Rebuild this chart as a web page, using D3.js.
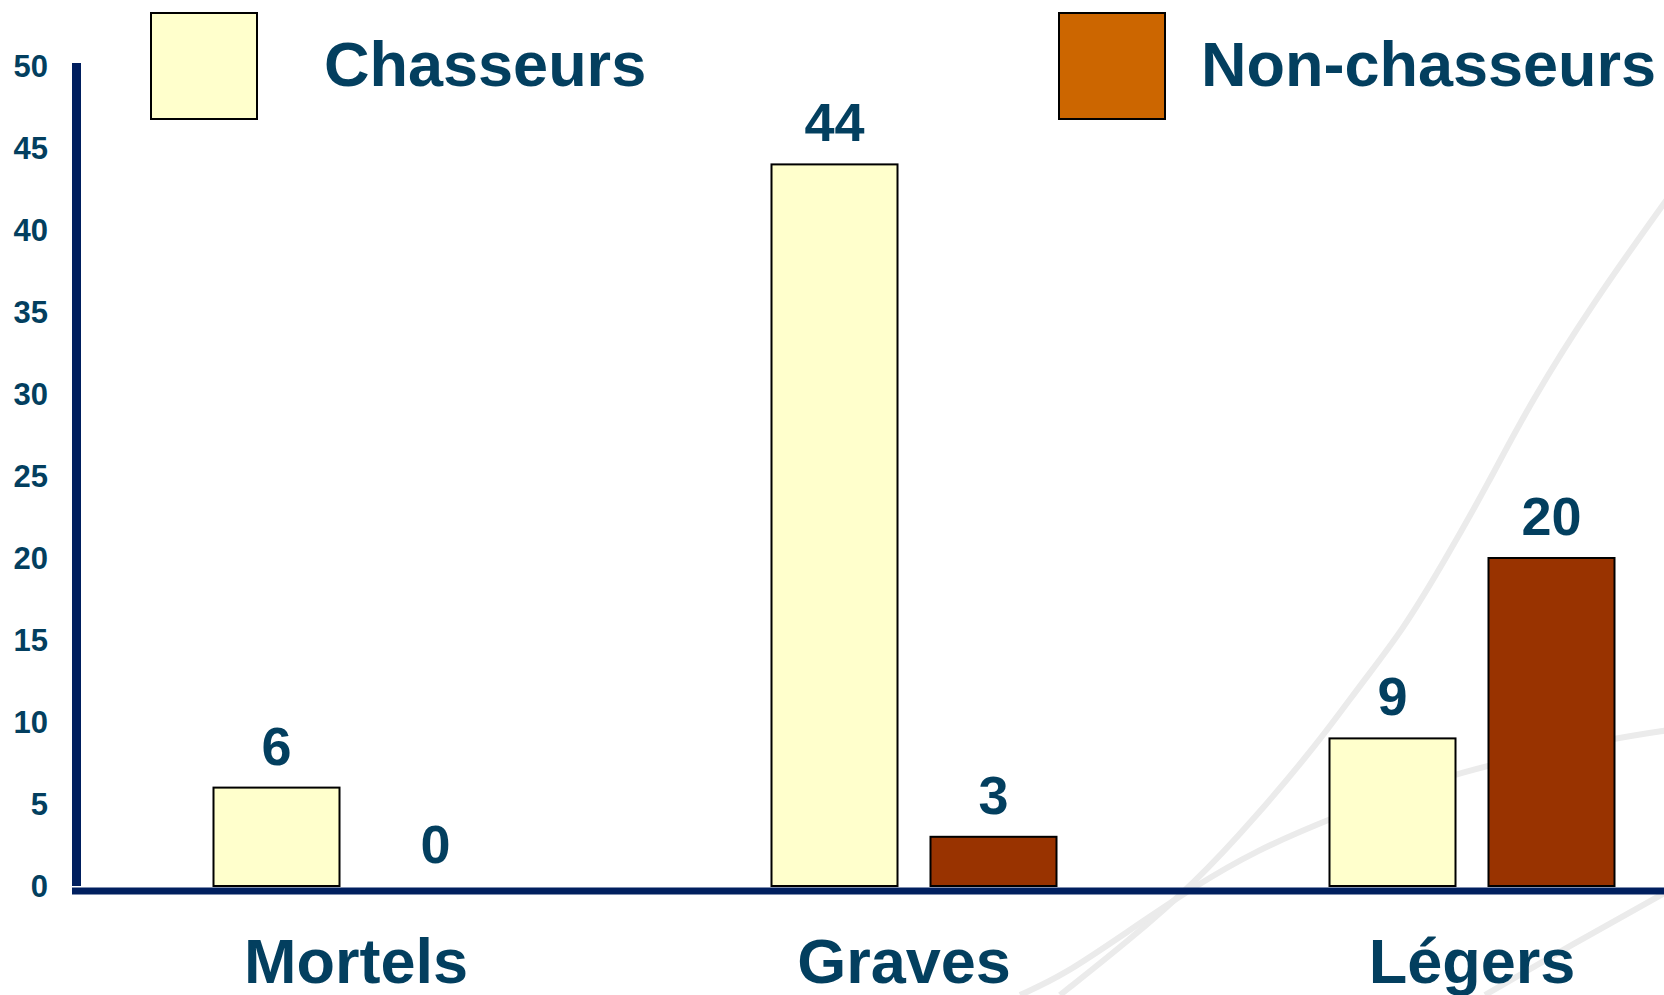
<!DOCTYPE html>
<html>
<head>
<meta charset="utf-8">
<script src="https://cdn.jsdelivr.net/npm/d3@7"></script>
<style>
body{margin:0;background:#ffffff;overflow:hidden;}
</style>
</head>
<body>
<script>
var categories=["Mortels","Graves","Légers"];
var series=["Chasseurs","Non-chasseurs"];
var chasseurs=[6,44,9];
var nonChasseurs=[0,3,20];
var yTicks=[0,5,10,15,20,25,30,35,40,45,50];

var barColors=["#FFFFCC","#993300"];
var legendColors=["#FFFFCC","#CC6600"];
var textColor="#033F5F";
var axisColor="#001F5F";
var font="'Liberation Sans', Arial, sans-serif";

// faint background swooshes (decoration only)
var swooshes=[
  [[1060,995],[1127,942],[1195,883],[1255,818],[1318,743],[1361,684],[1403,630],[1445,560],[1488,484],[1530,403],[1594,301],[1670,195]],
  [[1020,995],[1064,975],[1127,932],[1195,886],[1255,851],[1331,818],[1458,770],[1615,738],[1670,730]],
  [[1485,995],[1580,940],[1670,890]]
];

var drawChart=function()
{
  var width=1664;
  var height=995;
  var svg=d3.select("body").append("svg")
            .attr("width",width)
            .attr("height",height);

  var line=d3.line().curve(d3.curveBasis);
  svg.selectAll("path.swoosh")
     .data(swooshes)
     .enter()
     .append("path")
     .attr("class","swoosh")
     .attr("d",line)
     .attr("fill","none")
     .attr("stroke","#EBEBEB")
     .attr("stroke-width",6);

  var y=d3.scaleLinear().domain([0,50]).range([886,66]);
  var x0=d3.scaleBand().domain(categories).range([77,1751]);
  var half=142.5;
  var x1=d3.scaleBand().domain(series)
           .range([x0.bandwidth()/2-half,x0.bandwidth()/2+half])
           .paddingInner(0.2075);

  var rows=categories.map(function(c,i){
    return {cat:c,values:[chasseurs[i],nonChasseurs[i]]};
  });

  // axes
  svg.append("line")
     .attr("x1",76.5).attr("x2",76.5)
     .attr("y1",63).attr("y2",886)
     .attr("stroke",axisColor)
     .attr("stroke-width",9);
  svg.append("line")
     .attr("x1",72).attr("x2",width)
     .attr("y1",891).attr("y2",891)
     .attr("stroke",axisColor)
     .attr("stroke-width",7);

  svg.selectAll("text.ytick")
     .data(yTicks)
     .enter()
     .append("text")
     .attr("class","ytick")
     .text(function(d){ return d; })
     .attr("x",48)
     .attr("y",function(d){ return y(d)+11; })
     .attr("text-anchor","end")
     .attr("fill",textColor)
     .attr("font-size",31)
     .attr("font-weight","bold")
     .attr("font-family",font);

  var groups=svg.selectAll("g.group")
     .data(rows)
     .enter()
     .append("g")
     .attr("class","group")
     .attr("transform",function(d){ return "translate("+x0(d.cat)+",0)"; });

  groups.selectAll("rect")
     .data(function(d){ return d.values.map(function(v,i){ return {s:series[i],v:v,i:i}; }); })
     .enter()
     .append("rect")
     .attr("x",function(d){ return x1(d.s); })
     .attr("y",function(d){ return y(d.v); })
     .attr("width",x1.bandwidth())
     .attr("height",function(d){ return y(0)-y(d.v); })
     .attr("fill",function(d){ return barColors[d.i]; })
     .attr("stroke","#000000")
     .attr("stroke-width",2);

  groups.selectAll("text.val")
     .data(function(d){ return d.values.map(function(v,i){ return {s:series[i],v:v,i:i}; }); })
     .enter()
     .append("text")
     .attr("class","val")
     .text(function(d){ return d.v; })
     .attr("x",function(d){ return x1(d.s)+x1.bandwidth()/2; })
     .attr("y",function(d){ return y(d.v)-23; })
     .attr("text-anchor","middle")
     .attr("fill",textColor)
     .attr("font-size",54)
     .attr("font-weight","bold")
     .attr("font-family",font);

  var labelShift=[0,-10,0];
  svg.selectAll("text.cat")
     .data(categories)
     .enter()
     .append("text")
     .attr("class","cat")
     .text(function(d){ return d; })
     .attr("x",function(d,i){ return x0(d)+x0.bandwidth()/2+labelShift[i]; })
     .attr("y",983)
     .attr("text-anchor","middle")
     .attr("fill",textColor)
     .attr("font-size",63)
     .attr("font-weight","bold")
     .attr("font-family",font);

  // legend
  var legendX=[151,1059];
  var legendTextX=[324,1201];
  var legend=svg.append("g");
  legend.selectAll("rect")
        .data(series)
        .enter()
        .append("rect")
        .attr("x",function(d,i){ return legendX[i]; })
        .attr("y",13)
        .attr("width",106)
        .attr("height",106)
        .attr("fill",function(d,i){ return legendColors[i]; })
        .attr("stroke","#000000")
        .attr("stroke-width",2);
  legend.selectAll("text")
        .data(series)
        .enter()
        .append("text")
        .text(function(d){ return d; })
        .attr("x",function(d,i){ return legendTextX[i]; })
        .attr("y",86)
        .attr("fill",textColor)
        .attr("font-size",63)
        .attr("font-weight","bold")
        .attr("font-family",font);
};

drawChart();
</script>
</body>
</html>
